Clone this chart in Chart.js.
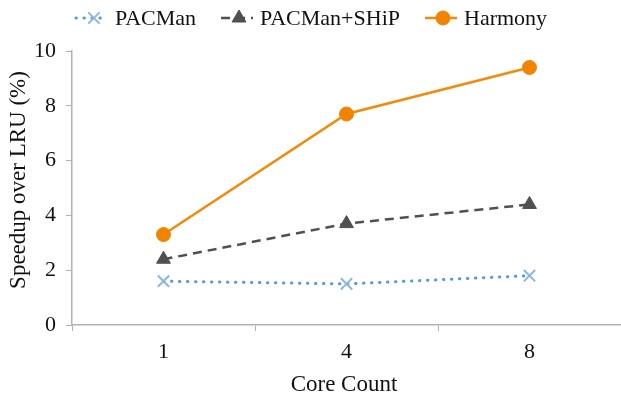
<!DOCTYPE html>
<html>
<head>
<meta charset="utf-8">
<script src="https://cdn.jsdelivr.net/npm/chart.js@4/dist/chart.umd.min.js"></script>
<style>
  html, body { margin: 0; padding: 0; background: #fff; }
  #wrap { width: 621px; height: 396px; }
</style>
</head>
<body>
<div id="wrap"><canvas id="chart" width="621" height="396"></canvas></div>
<script>
var coreCounts = ["1", "4", "8"];
var pacman = [1.6, 1.5, 1.8];
var pacmanShip = [2.4, 3.7, 4.4];
var harmony = [3.3, 7.7, 9.4];
var yTicks = [0, 2, 4, 6, 8, 10];
var xTitle = "Core Count";
var yTitle = "Speedup over LRU (%)";

var serif = "'Liberation Serif', 'Times New Roman', serif";
var axisGray = "#b3b3b3";
var textColor = "#111";

// legend + axis titles drawn by hand so each entry shows its line style and marker
var decorations = {
    id: 'decorations',
    afterDraw: function(chart) {
        let ctx = chart.ctx;
        ctx.save();

        // axis titles
        ctx.fillStyle = textColor;
        ctx.font = "23px " + serif;
        ctx.textAlign = 'center';
        ctx.textBaseline = 'middle';
        ctx.fillText(xTitle, 344, 385);
        ctx.save();
        ctx.translate(19, 180);
        ctx.rotate(-Math.PI / 2);
        ctx.fillText(yTitle, 0, 0);
        ctx.restore();

        // legend
        ctx.font = "22px " + serif;
        let lineLen = 32;
        let items = chart.data.datasets.map(ds => ({
            ds: ds,
            w: lineLen + 7 + ctx.measureText(ds.label).width
        }));
        let gap = 25;
        let total = items.reduce((a, it) => a + it.w, 0) + gap * (items.length - 1);
        let x = (chart.width - total) / 2 + 1;
        let y = 18;
        items.forEach(it => {
            let ds = it.ds;
            ctx.strokeStyle = ds.borderColor;
            ctx.lineWidth = ds.borderWidth;
            ctx.lineCap = ds.borderCapStyle || 'butt';
            ctx.setLineDash(ds.borderDash || []);
            ctx.beginPath();
            ctx.moveTo(x, y);
            ctx.lineTo(x + lineLen, y);
            ctx.stroke();
            ctx.setLineDash([]);
            ctx.lineCap = 'butt';
            ctx.fillStyle = ds.pointBackgroundColor;
            ctx.strokeStyle = ds.pointBorderColor;
            ctx.lineWidth = ds.pointBorderWidth;
            Chart.helpers.drawPoint(ctx, {
                pointStyle: ds.pointStyle,
                radius: ds.pointRadius,
                borderWidth: ds.pointBorderWidth
            }, x + 18, y);
            ctx.fillStyle = textColor;
            ctx.textBaseline = 'middle';
            ctx.textAlign = 'left';
            ctx.fillText(ds.label, x + lineLen + 7, y + 1);
            x += it.w + gap;
        });
        ctx.restore();
    }
};

new Chart(document.getElementById("chart"), {
    type: 'line',
    data: {
        labels: coreCounts,
        datasets: [{
            label: "PACMan",
            data: pacman,
            borderColor: "#5b9bd5",
            borderWidth: 3,
            borderDash: [0.5, 7.5],
            borderCapStyle: 'round',
            pointStyle: 'crossRot',
            pointRadius: 8,
            pointBorderWidth: 2,
            pointBorderColor: "#8fb6e0",
            pointBackgroundColor: "#8fb6e0"
        }, {
            label: "PACMan+SHiP",
            data: pacmanShip,
            borderColor: "#505050",
            borderWidth: 2.5,
            borderDash: [9, 6],
            pointStyle: 'triangle',
            pointRadius: 8,
            pointBorderWidth: 1,
            pointBorderColor: "#505050",
            pointBackgroundColor: "#505050"
        }, {
            label: "Harmony",
            data: harmony,
            borderColor: "#f28a0c",
            borderWidth: 2.5,
            pointStyle: 'circle',
            pointRadius: 7,
            pointBorderWidth: 1,
            pointBorderColor: "#f08400",
            pointBackgroundColor: "#f08400"
        }]
    },
    options: {
        responsive: false,
        animation: false,
        layout: { autoPadding: false, padding: { top: 51, right: 0, left: 0, bottom: 0 } },
        plugins: {
            legend: { display: false },
            tooltip: { enabled: false }
        },
        scales: {
            x: {
                offset: true,
                grid: { offset: true, drawOnChartArea: false, tickLength: 6, color: axisGray },
                border: { color: axisGray, width: 1.5 },
                ticks: { color: textColor, padding: 8, font: { family: serif, size: 22 } },
                afterFit: function(s) {
                    s.height = 71;
                    s.paddingLeft = 0;
                    s.paddingRight = 0;
                }
            },
            y: {
                min: 0,
                max: 10,
                afterBuildTicks: function(s) { s.ticks = yTicks.map(v => ({ value: v })); },
                grid: { drawOnChartArea: false, tickLength: 6, color: axisGray },
                border: { color: axisGray, width: 1.5 },
                ticks: { color: textColor, padding: 10, font: { family: serif, size: 22 } },
                afterFit: function(s) { s.width = 72; }
            }
        }
    },
    plugins: [decorations]
});
</script>
</body>
</html>
